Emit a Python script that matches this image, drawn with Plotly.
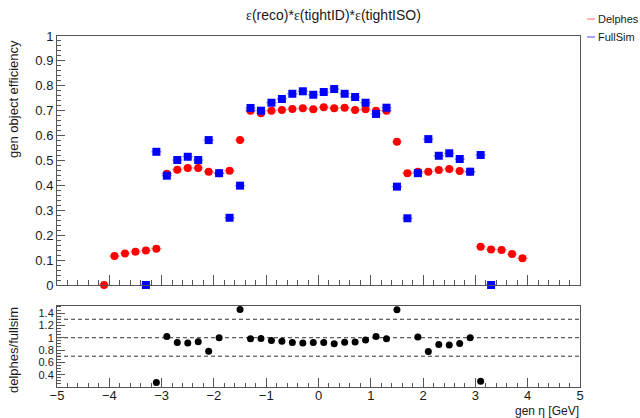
import numpy as np
import plotly.graph_objects as go

# Bin centres (width 0.2 in eta)
eta_delphes = [-4.1, -3.9, -3.7, -3.5, -3.3, -3.1, -2.9, -2.7, -2.5, -2.3, -2.1, -1.9,
               -1.7, -1.5, -1.3, -1.1, -0.9, -0.7, -0.5, -0.3, -0.1, 0.1, 0.3, 0.5,
               0.7, 0.9, 1.1, 1.3, 1.5, 1.7, 1.9, 2.1, 2.3, 2.5, 2.7, 2.9, 3.1, 3.3,
               3.5, 3.7, 3.9]
eff_delphes = [0.0, 0.116, 0.127, 0.134, 0.139, 0.146, 0.447, 0.463, 0.470, 0.470, 0.455, 0.449,
               0.459, 0.582, 0.700, 0.690, 0.700, 0.703, 0.707, 0.710, 0.706, 0.714, 0.710, 0.712,
               0.703, 0.706, 0.700, 0.700, 0.575, 0.449, 0.455, 0.455, 0.462, 0.466, 0.458, 0.455,
               0.154, 0.143, 0.141, 0.124, 0.107]

eta_fullsim = [-3.3, -3.1, -2.9, -2.7, -2.5, -2.3, -2.1, -1.9, -1.7, -1.5, -1.3, -1.1,
               -0.9, -0.7, -0.5, -0.3, -0.1, 0.1, 0.3, 0.5, 0.7, 0.9, 1.1, 1.3,
               1.5, 1.7, 1.9, 2.1, 2.3, 2.5, 2.7, 2.9, 3.1, 3.3]
eff_fullsim = [0.0, 0.535, 0.439, 0.502, 0.515, 0.502, 0.582, 0.449, 0.270, 0.399, 0.711, 0.700,
               0.732, 0.747, 0.768, 0.778, 0.764, 0.775, 0.787, 0.768, 0.755, 0.732, 0.687, 0.712,
               0.395, 0.268, 0.449, 0.586, 0.519, 0.529, 0.506, 0.455, 0.522, 0.0]

bin_half_width = 0.1
ratio_ref_lines = [0.7, 1.0, 1.3]

# delphes / fullsim in the bins where fullsim is filled
d_map = dict(zip(eta_delphes, eff_delphes))
eta_ratio, ratio = [], []
for e, f in zip(eta_fullsim, eff_fullsim):
    if f > 0 and e in d_map:
        eta_ratio.append(e)
        ratio.append(d_map[e] / f)

# page geometry
W, H = 640, 418
L, R, T, B = 57, 60, 36, 31


def px(xp):
    return (xp - L) / (W - L - R)


def py(yp):
    return (H - B - yp) / (H - T - B)


FONT = "Liberation Sans, Arial, sans-serif"
TXT = "#1a1a1a"
FRAME = "#555555"

fig = go.Figure()

fig.add_trace(go.Scatter(
    x=eta_delphes, y=eff_delphes, xaxis="x2", yaxis="y2", mode="markers",
    marker=dict(symbol="circle", size=8, color="#ff0000"),
    error_x=dict(type="constant", value=bin_half_width, color="rgba(255,0,0,0.45)",
                 thickness=1.2, width=0),
    cliponaxis=False, showlegend=False, name="Delphes"))

fig.add_trace(go.Scatter(
    x=eta_fullsim, y=eff_fullsim, xaxis="x2", yaxis="y2", mode="markers",
    marker=dict(symbol="square", size=8, color="#0000ff"),
    error_x=dict(type="constant", value=bin_half_width, color="rgba(0,0,255,0.45)",
                 thickness=1.2, width=0),
    cliponaxis=False, showlegend=False, name="FullSim"))

fig.add_trace(go.Scatter(
    x=eta_ratio, y=ratio, xaxis="x", yaxis="y", mode="markers",
    marker=dict(symbol="circle", size=7, color="#000000"),
    showlegend=False, name="delphes/fullsim"))

for v in ratio_ref_lines:
    fig.add_shape(type="line", xref="x", yref="y", x0=-5, x1=5, y0=v, y1=v,
                  line=dict(color="#333333", width=1, dash="4px,3px"), layer="below")

axis_common = dict(showline=True, linecolor=FRAME, linewidth=1, mirror=True,
                   showgrid=False, zeroline=False, ticks="inside", tickcolor=FRAME,
                   tickfont=dict(family=FONT, size=13, color=TXT))

fig.update_layout(
    width=W, height=H,
    margin=dict(l=L, r=R, t=T, b=B),
    paper_bgcolor="white", plot_bgcolor="white",
    xaxis=dict(axis_common, domain=[0, 1], anchor="y", range=[-5, 5], dtick=1,
               ticklen=9, ticklabelstandoff=-4,
               minor=dict(dtick=0.2, ticklen=4, ticks="inside", tickcolor=FRAME)),
    yaxis=dict(axis_common, domain=[0, py(305.7)], anchor="x", range=[0.2, 1.52],
               tickvals=[0.4, 0.6, 0.8, 1.0, 1.2, 1.4], ticklen=8,
               tickfont=dict(family=FONT, size=11, color=TXT),
               minor=dict(dtick=0.05, tick0=0, ticklen=4, ticks="inside", tickcolor=FRAME)),
    xaxis2=dict(axis_common, domain=[0, 1], anchor="y2", matches="x", range=[-5, 5],
                dtick=1, showticklabels=False, ticklen=10,
                minor=dict(dtick=0.2, ticklen=5, ticks="inside", tickcolor=FRAME)),
    yaxis2=dict(axis_common, domain=[py(285), 1], anchor="x2", range=[0, 1], dtick=0.1,
                ticklen=8, minor=dict(dtick=0.02, ticklen=4, ticks="inside", tickcolor=FRAME)),
)

annotations = [
    dict(text="<span style='font-family:Liberation Serif'>ε</span>(reco)*"
              "<span style='font-family:Liberation Serif'>ε</span>(tightID)*"
              "<span style='font-family:Liberation Serif'>ε</span>(tightISO)",
         x=px(333), y=py(15), font=dict(size=14)),
    dict(text="gen object efficiency", x=px(13), y=py(99), textangle=-90,
         font=dict(size=13)),
    dict(text="delphes/fullsim", x=px(13), y=py(350), textangle=-90, font=dict(size=13)),
    dict(text="gen η [GeV]", x=px(581), y=py(411), xanchor="right", font=dict(size=12)),
    dict(text="Delphes", x=px(596), y=py(19), xanchor="left", font=dict(size=11)),
    dict(text="FullSim", x=px(596), y=py(37), xanchor="left", font=dict(size=11)),
]
for a in annotations:
    a.setdefault("xanchor", "center")
    a.update(xref="paper", yref="paper", showarrow=False, yanchor="middle")
    a["font"].update(family=FONT, color=TXT)
    fig.add_annotation(**a)

# legend line samples
for yp, col in [(19, "rgba(255,0,0,0.5)"), (37, "rgba(0,0,255,0.6)")]:
    fig.add_shape(type="line", xref="paper", yref="paper", x0=px(587), x1=px(595),
                  y0=py(yp), y1=py(yp), line=dict(color=col, width=1.2))

fig.write_html("out.html")
